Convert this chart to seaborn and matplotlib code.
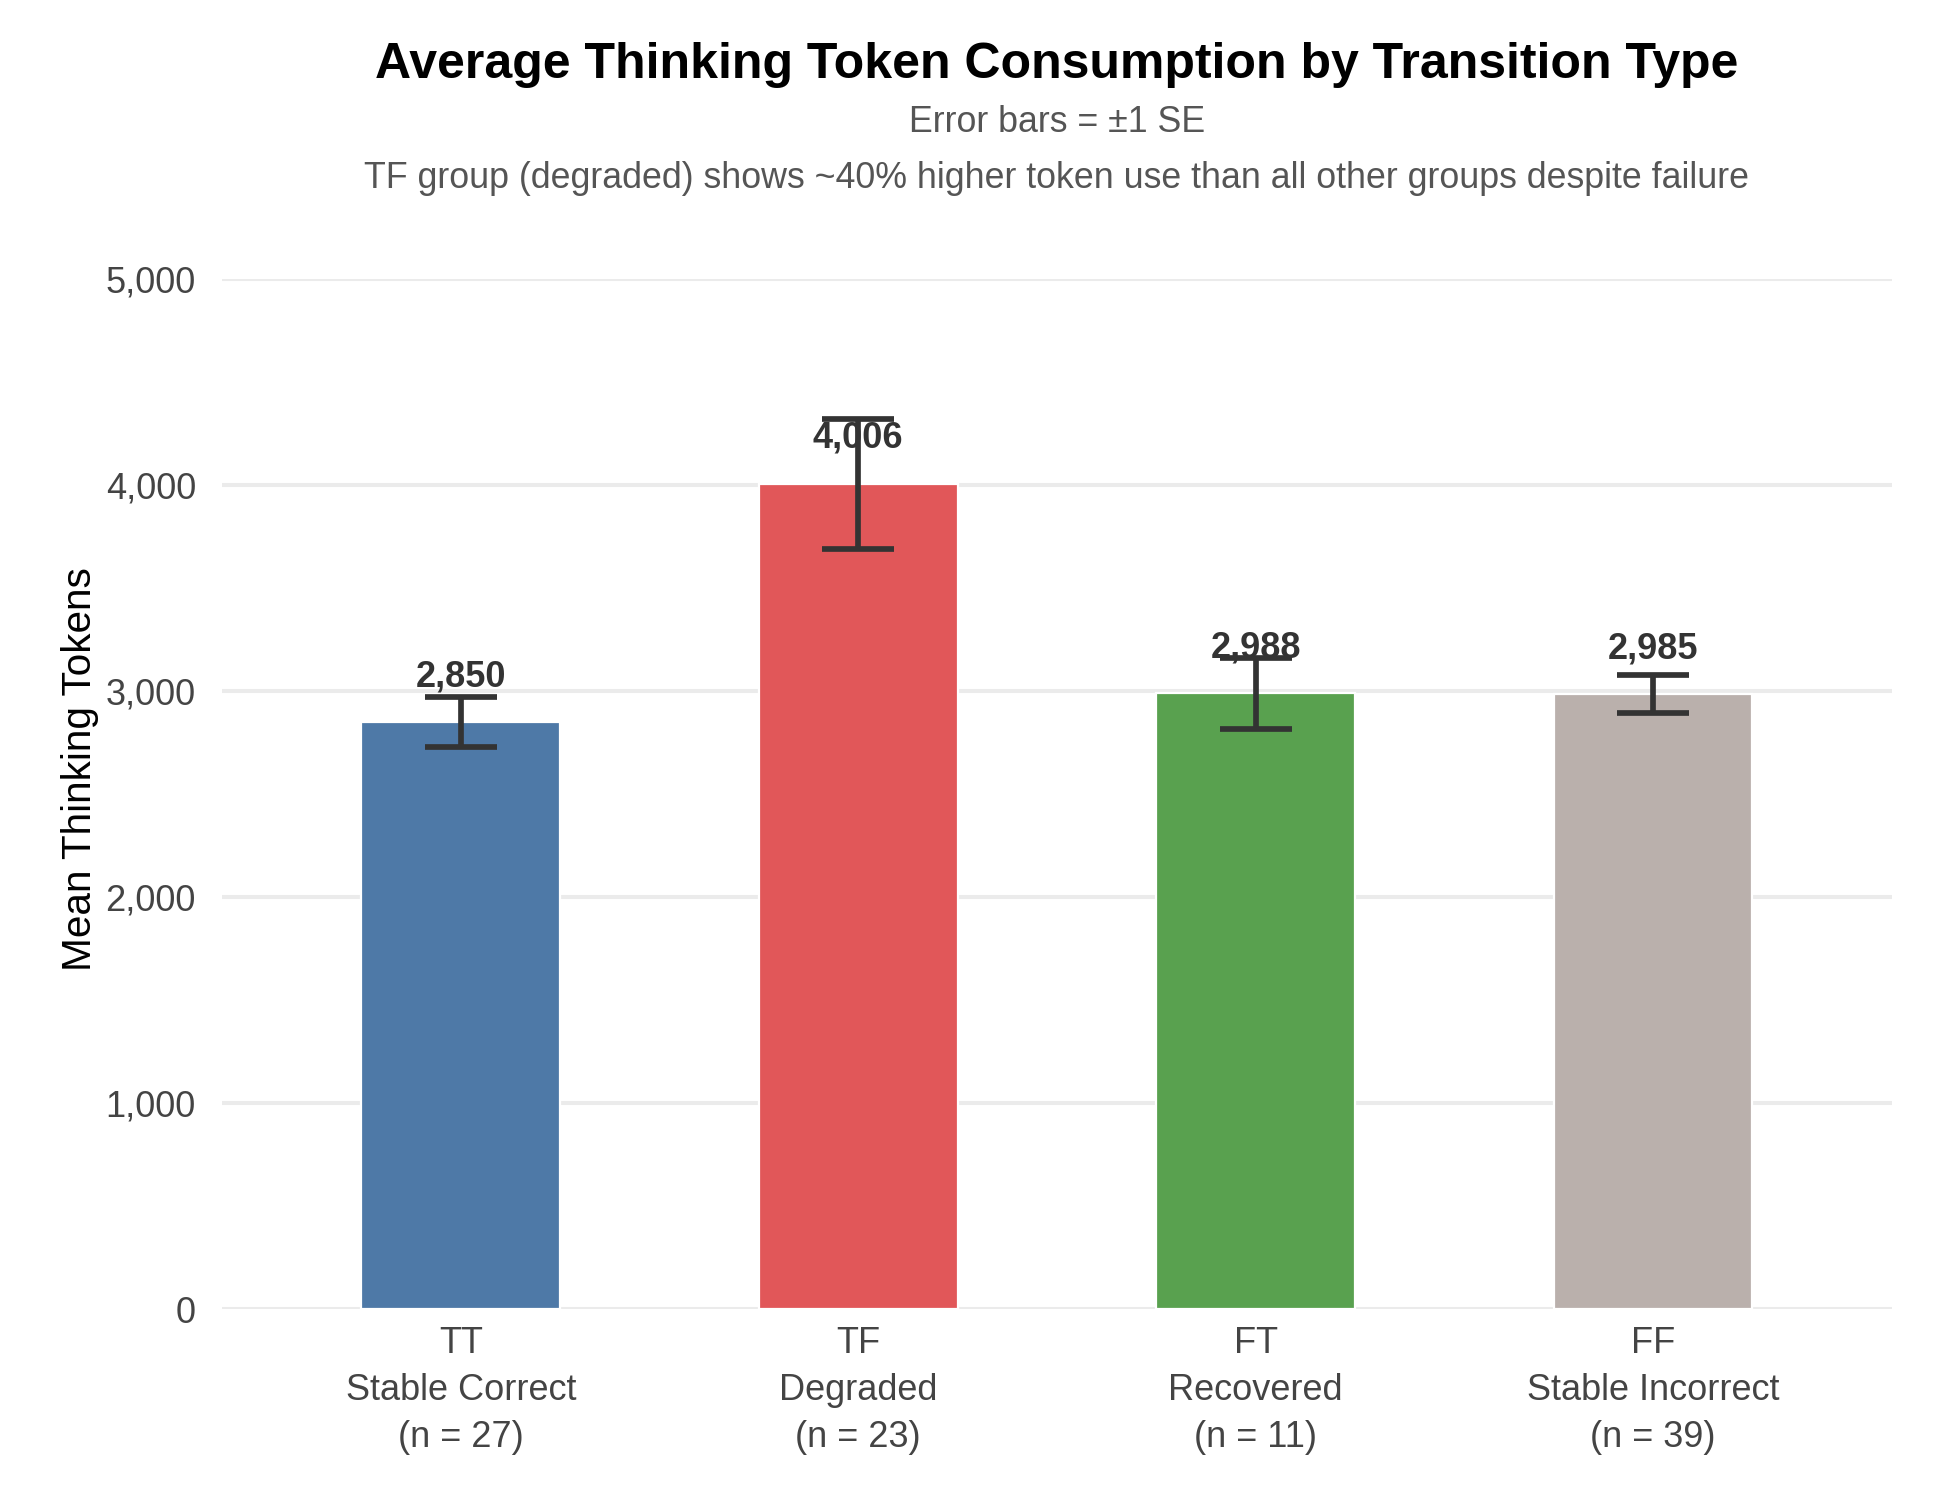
import matplotlib
matplotlib.use("Agg")
import matplotlib.pyplot as plt
import seaborn as sns
import pandas as pd

# transition groups
codes = ["TT", "TF", "FT", "FF"]
names = ["Stable Correct", "Degraded", "Recovered", "Stable Incorrect"]
counts = [27, 23, 11, 39]
mean_tokens = [2850, 4006, 2988, 2985]
se_tokens = [121, 316, 172, 93]
colors = ["#4e79a7", "#e15759", "#59a14f", "#bab0ac"]

title = "Average Thinking Token Consumption by Transition Type"
sub1 = "Error bars = \u00b11 SE"
sub2 = "TF group (degraded) shows ~40% higher token use than all other groups despite failure"

sns.set_theme(style="whitegrid")
plt.rcParams["font.family"] = ["Liberation Sans", "DejaVu Sans"]

labels = [f"{c}\n{n}\n(n = {k})" for c, n, k in zip(codes, names, counts)]
df = pd.DataFrame({"group": labels, "mean": mean_tokens, "se": se_tokens})

fig, ax = plt.subplots(figsize=(9.75, 7.5), dpi=200)
fig.subplots_adjust(left=0.114, right=0.97, top=0.814, bottom=0.1273)

sns.barplot(data=df, x="group", y="mean", hue="group", palette=colors,
            legend=False, width=0.5, edgecolor="white", linewidth=0.8,
            saturation=1, ax=ax, zorder=2)

ax.errorbar(range(len(df)), df["mean"], yerr=df["se"], fmt="none",
            ecolor="#333333", elinewidth=2.05, capsize=13, capthick=2.05,
            zorder=5)

for i, m in enumerate(mean_tokens):
    ax.text(i, m + 135, f"{m:,}", ha="center", va="bottom",
            fontsize=13, fontweight="bold", color="#333333", zorder=4)

ax.set_xlim(-0.6, 3.6)
ax.set_ylim(0, 5000)
ax.set_yticks([0, 1000, 2000, 3000, 4000, 5000])
ax.yaxis.set_major_formatter(matplotlib.ticker.FuncFormatter(lambda v, p: f"{int(v):,}"))
ax.grid(axis="y", color="#ebebeb", linewidth=1.45)
ax.grid(axis="x", visible=False)
ax.set_axisbelow(True)
for s in ax.spines.values():
    s.set_visible(False)

ax.tick_params(axis="y", length=0, pad=9.5, labelsize=13, labelcolor="#444444")
ax.tick_params(axis="x", length=0, pad=6, labelsize=13, labelcolor="#444444")
for lbl in ax.get_xticklabels():
    lbl.set_linespacing(1.45)
ax.set_xlabel("")
ax.set_ylabel("Mean Thinking Tokens", fontsize=14.6, color="black")
ax.yaxis.set_label_coords(-0.074, 0.524)

fig.text(0.542, 1 - 78 / 1500, title, ha="center", va="baseline",
         fontsize=18, fontweight="bold", color="black")
fig.text(0.542, 1 - 132 / 1500, sub1, ha="center", va="baseline",
         fontsize=12.9, color="#555555")
fig.text(0.542, 1 - 188 / 1500, sub2, ha="center", va="baseline",
         fontsize=12.9, color="#555555")

fig.savefig("out.png", dpi=200)
